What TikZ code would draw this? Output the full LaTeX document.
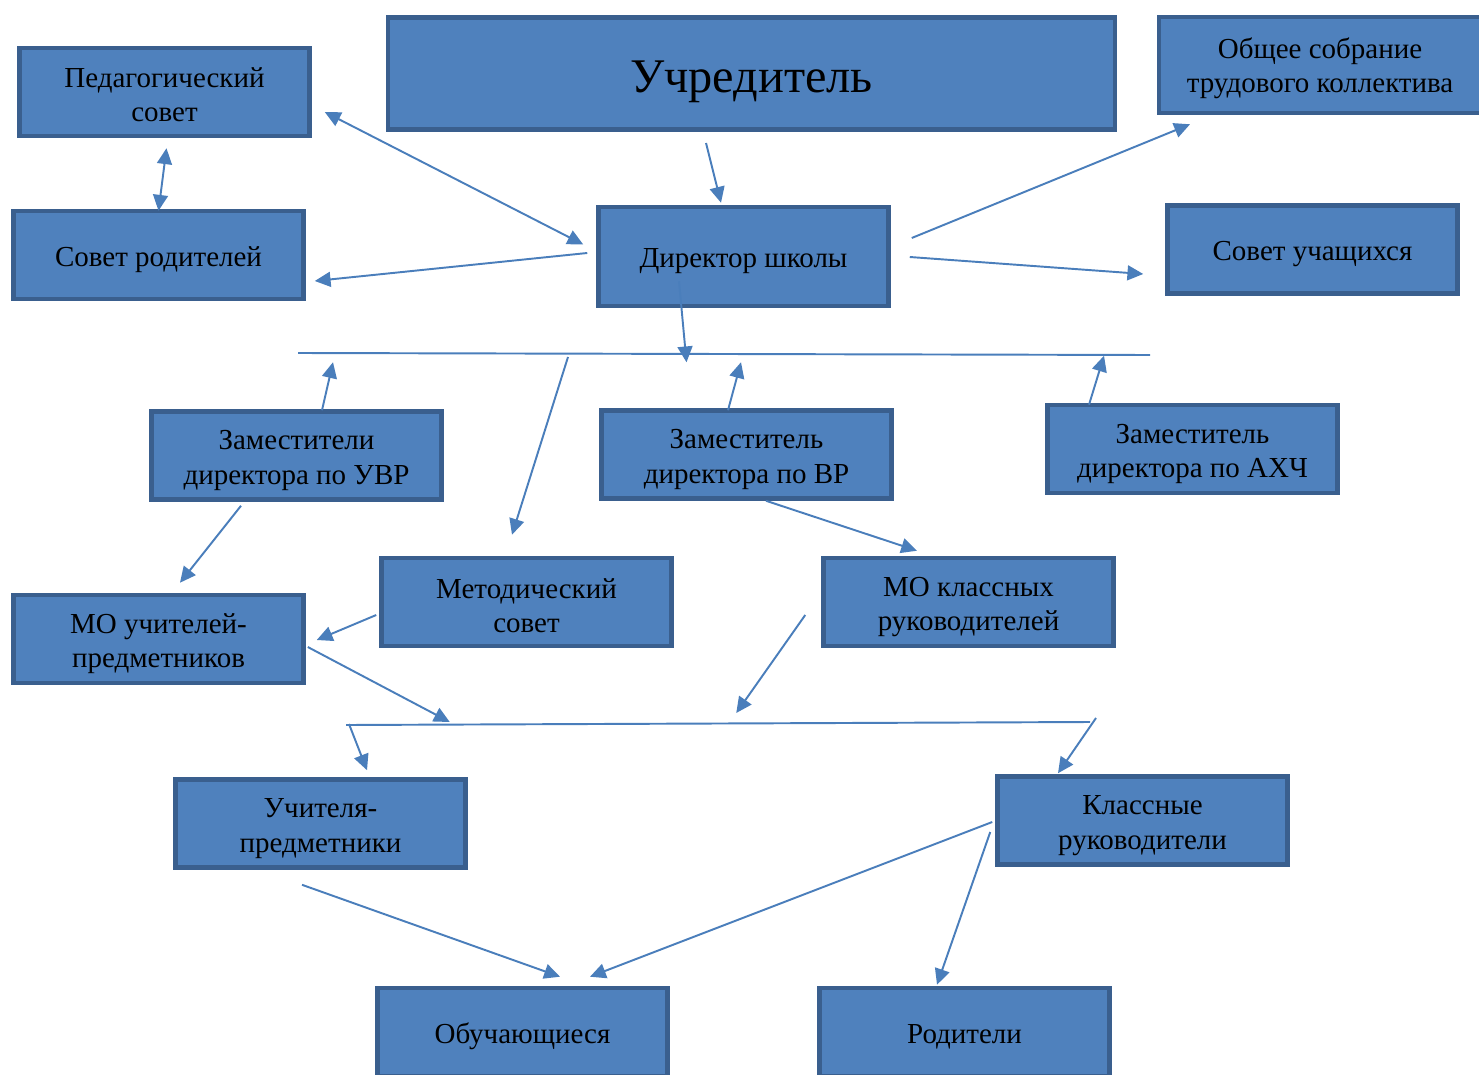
\documentclass[tikz,border=0pt]{standalone}
\usepackage{fontspec}
\setmainfont{Liberation Serif}
\usepackage{tikz}
\usetikzlibrary{arrows.meta}
\definecolor{boxfill}{HTML}{4F81BD}
\definecolor{boxedge}{HTML}{3A5F8E}
\definecolor{linkcol}{HTML}{4A7EBB}
\tikzset{>={Triangle[length=9pt,width=8.5pt]},
  unit/.style={draw=boxedge,fill=boxfill,line width=2.6pt,minimum width=5.8cm,
    minimum height=1.76cm,inner sep=0pt,align=center,
    font=\fontsize{16.5}{19.5}\selectfont,
    execute at begin node={\setbox0=\hbox\bgroup},
    execute at end node={\egroup\ht0=\dimexpr\ht0+#1\relax\box0}},
  unit/.default=0.2cm,
  link/.style={draw=linkcol,line width=1.1pt,->},
  bus/.style={draw=linkcol,line width=1.1pt}}

\begin{document}
\begin{tikzpicture}[x=0.02cm,y=-0.02cm]
  \useasboundingbox (0,0) rectangle (1479,1074);

  \node[unit=0.32cm,minimum width=14.55cm,minimum height=2.25cm,
    font=\fontsize{27.5}{33}\selectfont] (uchr) at (751.5,73.5) {Учредитель};
  \node[unit=0.1cm] (ped) at (164.5,92) {Педагогический\\совет};
  \node[unit] (sovrod) at (158.5,255) {Совет родителей};
  \node[unit=0.14cm,minimum width=6.45cm,minimum height=1.92cm] (obsh) at (1320,65)
    {Общее собрание\\трудового коллектива};
  \node[unit,minimum height=1.98cm] (dir) at (743.5,256.5) {Директор школы};
  \node[unit] (sovuch) at (1312.5,249.5) {Совет учащихся};
  \node[unit] (zuvr) at (296.5,455.5) {Заместители\\директора по УВР};
  \node[unit] (zvr) at (746.5,454.5) {Заместитель\\директора по ВР};
  \node[unit] (zahch) at (1192.5,449) {Заместитель\\директора по АХЧ};
  \node[unit=0.16cm] (metod) at (526.5,602) {Методический\\совет};
  \node[unit] (mokl) at (968.5,602) {МО классных\\руководителей};
  \node[unit] (mouch) at (158.5,639) {МО учителей-\\предметников};
  \node[unit] (uchpr) at (320.5,823.5) {Учителя-\\предметники};
  \node[unit] (klruk) at (1142.5,820.5) {Классные\\руководители};
  \node[unit=0.16cm] (obuch) at (522.5,1032) {Обучающиеся};
  \node[unit] (rod) at (964.5,1032) {Родители};

  \coordinate (bus1w) at (298,353);
  \coordinate (bus1e) at (1150,355);
  \coordinate (mbranch) at (568,357);
  \coordinate (bus2w) at (346,725);
  \coordinate (bus2e) at (1090,722);
  \coordinate (ubranch) at (349,724);
  \coordinate (kbranch) at (1096,718);

  \draw[bus] (bus1w) -- (bus1e);
  \draw[bus] (bus2w) -- (bus2e);

  \draw[link,<->] ([shift={(2,10)}]ped.south) -- ([shift={(0,2)}]sovrod.north);
  \draw[link,<->] ([shift={(-13,-12)}]dir.west) -- ([shift={(13,20)}]ped.east);
  \draw[link] ([shift={(-9,-3.5)}]dir.west) -- ([shift={(9,26)}]sovrod.east);
  \draw[link] ([shift={(-45.5,11)}]uchr.south) -- ([shift={(-22.5,-2)}]dir.north);
  \draw[link] ([shift={(21,-18.5)}]dir.east) -- ([shift={(-130,9)}]obsh.south);
  \draw[link] ([shift={(19,0.5)}]dir.east) -- ([shift={(-22,24.5)}]sovuch.west);
  \draw[link] ([shift={(-64.5,-27)}]dir.south) -- ([shift={(-57,54)}]dir.south);

  \draw[link] ([shift={(25.5,1)}]zuvr.north) -- ([shift={(36.5,-47)}]zuvr.north);
  \draw[link] (mbranch) -- ([shift={(-14.5,-21)}]metod.north);
  \draw[link] ([shift={(-18.5,2)}]zvr.north) -- ([shift={(-5.5,-46)}]zvr.north);
  \draw[link] ([shift={(-103.5,2)}]zahch.north) -- ([shift={(-88.5,-47)}]zahch.north);
  \draw[link] ([shift={(-55.5,4)}]zuvr.south) -- ([shift={(21.5,-10)}]mouch.north);
  \draw[link] ([shift={(-3,13)}]metod.west) -- ([shift={(11,1)}]mouch.east);
  \draw[link] ([shift={(19.5,0)}]zvr.south) -- ([shift={(-51.5,-5)}]mokl.north);
  \draw[link] ([shift={(-16,13)}]mokl.west) -- ([shift={(-85,111)}]mokl.west);
  \draw[link] ([shift={(2,8)}]mouch.east) -- ([shift={(144,83)}]mouch.east);

  \draw[link] (ubranch) -- ([shift={(46.5,-7)}]uchpr.north);
  \draw[link] (kbranch) -- ([shift={(-84.5,-1)}]klruk.north);
  \draw[link] ([shift={(-18.5,15)}]uchpr.south) -- ([shift={(37.5,-9)}]obuch.north);
  \draw[link] ([shift={(-3,1.5)}]klruk.west) -- ([shift={(67.5,-9)}]obuch.north);
  \draw[link] ([shift={(-5,11.5)}]klruk.west) -- ([shift={(-27.5,-1)}]rod.north);
\end{tikzpicture}
\end{document}
